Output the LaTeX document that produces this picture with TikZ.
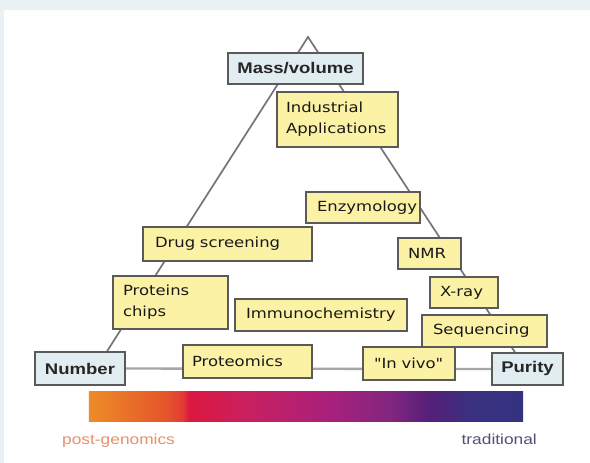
\documentclass[tikz,border=0pt]{standalone}
\usepackage{fontspec}
\usetikzlibrary{backgrounds}
\newfontfamily\boxfont{DejaVu Sans}[FakeStretch=1.18]
\newfontfamily\labfont{Liberation Sans}[FakeStretch=1.2]
\definecolor{bgc}{HTML}{E9F1F4}
\definecolor{yel}{HTML}{FCF2A6}
\definecolor{blu}{HTML}{E1EDF1}
\definecolor{edge}{HTML}{5A5A5A}
\definecolor{tri}{HTML}{74747C}
\definecolor{pgc}{HTML}{E8906A}
\definecolor{trc}{HTML}{50507A}
\definecolor{g0}{RGB}{238,140,40}
\definecolor{g1}{RGB}{228,84,42}
\definecolor{g2}{RGB}{226,60,50}
\definecolor{g3}{RGB}{220,24,64}
\definecolor{g4}{RGB}{200,32,96}
\definecolor{g5}{RGB}{168,32,124}
\definecolor{g6}{RGB}{130,38,128}
\definecolor{g7}{RGB}{84,32,120}
\definecolor{g8}{RGB}{58,48,128}
\definecolor{g9}{RGB}{52,50,128}
\pgfdeclarehorizontalshading{spectrum}{100bp}{color(0bp)=(g0); color(25bp)=(g0); color(34bp)=(g1); color(35.8bp)=(g2); color(36.5bp)=(g3); color(43.5bp)=(g4); color(52.8bp)=(g5); color(59.7bp)=(g6); color(64.3bp)=(g7); color(68.9bp)=(g8); color(75bp)=(g9); color(100bp)=(g9)}
\tikzset{
  ybox/.style={draw=edge, line width=1.4bp, fill=yel, font=\boxfont\fontsize{14}{21}\selectfont, text=black!90, inner xsep=0bp, inner ysep=0bp, align=left},
  bbox/.style={draw=edge, line width=1.4bp, fill=blu, font=\labfont\bfseries\fontsize{15.5}{18}\selectfont, text=black!85, inner sep=0bp, align=center},
  triline/.style={draw=tri, line width=1.7bp},
  hline/.style={draw=gray!70, line width=2.4bp}
}
\begin{document}
\begin{tikzpicture}[x=1bp,y=-1bp]
\useasboundingbox (0,0) rectangle (590,463);
\begin{pgfonlayer}{background}
\fill[bgc] (0,0) rectangle (590,463);
\fill[white] (4,10) rectangle (590,463);
\end{pgfonlayer}

\node[bbox, minimum width=135bp, minimum height=31bp] (mass) at (295.5,68.5) {Mass/volume};
\node[ybox, minimum width=121bp, minimum height=55bp, text width=103bp] (ind) at (337.5,119.5) {Industrial\\Applications};
\node[ybox, minimum width=114bp, minimum height=31bp, text width=92bp] (enz) at (363,207.5) {Enzymology};
\node[ybox, minimum width=169bp, minimum height=34bp, text width=145bp] (drug) at (227.5,244) {Drug screening};
\node[ybox, minimum width=63bp, minimum height=31bp, text width=43bp] (nmr) at (429.5,253.5) {NMR};
\node[ybox, minimum width=115bp, minimum height=53bp, text width=95bp] (chips) at (170.5,302.5) {Proteins\\chips};
\node[ybox, minimum width=68bp, minimum height=31bp, text width=48bp] (xray) at (464,292.5) {X-ray};
\node[ybox, minimum width=172bp, minimum height=32bp, text width=150bp] (immuno) at (321,315) {Immunochemistry};
\node[ybox, minimum width=125bp, minimum height=32bp, text width=103bp] (seq) at (484.5,331) {Sequencing};
\node[bbox, minimum width=90bp, minimum height=33bp] (number) at (80,368.5) {Number};
\node[ybox, minimum width=129bp, minimum height=33bp, text width=111bp] (prot) at (247.5,361.5) {Proteomics};
\node[ybox, minimum width=92bp, minimum height=33bp, text width=70bp] (invivo) at (409,363.5) {"In vivo"};
\node[bbox, minimum width=71bp, minimum height=32bp] (purity) at (527.5,369) {Purity};

\coordinate (apex) at (308,37);
\begin{pgfonlayer}{background}
\draw[triline] ([xshift=27bp]number.north) -- (apex) -- ([xshift=-12.5bp]purity.north);
\draw[hline] (number.east) -- (purity.west);
\end{pgfonlayer}

\node[shade, shading=spectrum, minimum width=434bp, minimum height=30bp, inner sep=0bp] (bar) at (306,406.5) {};

\node[anchor=base west, font=\labfont\fontsize{14.5}{17}\selectfont, text=pgc, inner sep=0bp] (pg) at (62,444) {post-genomics};
\node[anchor=base east, font=\labfont\fontsize{14.5}{17}\selectfont, text=trc, inner sep=0bp] (trad) at (537,444) {traditional};
\end{tikzpicture}
\end{document}
